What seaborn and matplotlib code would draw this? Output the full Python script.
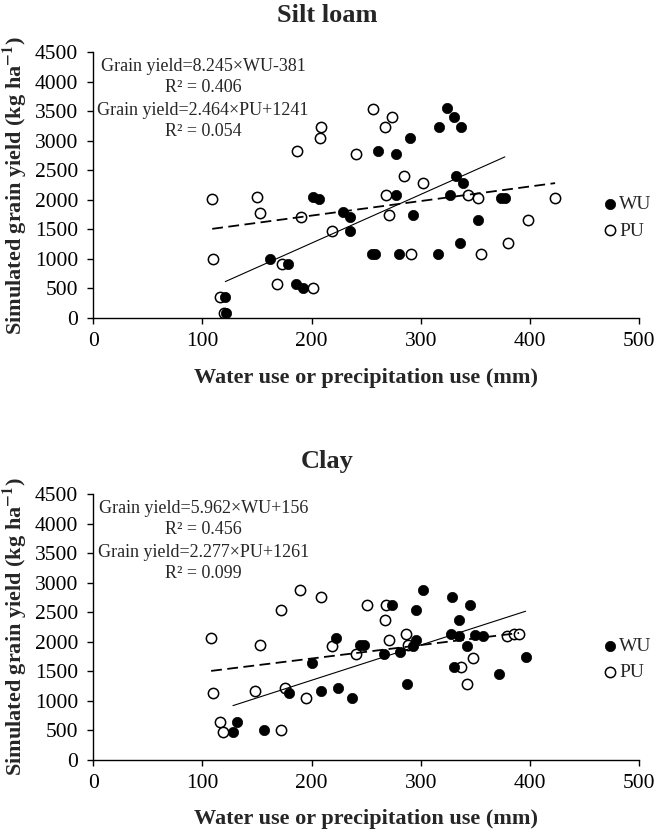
import numpy as np
import pandas as pd
import matplotlib.pyplot as plt
import seaborn as sns

# Silt loam - water use (filled) and precipitation use (open), mm vs kg/ha
silt_wu_x = [122, 121, 162, 178, 186, 192, 201, 207, 229, 235, 235, 255, 258, 261, 277, 277,
             280, 290, 293, 316, 317, 324, 327, 330, 332, 336, 337, 339, 352, 373, 377]
silt_wu_y = [80, 350, 1000, 910, 580, 510, 2050, 2010, 1790, 1710, 1470, 1080, 1080, 2820, 2780, 2090,
             1080, 3050, 1740, 1080, 3230, 3550, 2090, 3410, 2410, 1270, 3230, 2280, 1660, 2030, 2030]
silt_pu_x = [109, 110, 116, 120, 150, 153, 168, 173, 187, 190, 201, 208, 209, 219, 241, 256, 267,
             268, 271, 274, 285, 291, 302, 343, 352, 355, 380, 398, 423]
silt_pu_y = [2010, 1000, 350, 90, 2040, 1780, 580, 920, 2820, 1710, 510, 3050, 3230, 1470, 2780, 3540, 3230,
             2090, 1740, 3410, 2410, 1080, 2280, 2090, 2030, 1080, 1270, 1660, 2030]

# Clay
clay_wu_x = [128, 132, 156, 179, 200, 209, 222, 224, 237, 244, 248, 266, 274, 281, 287, 293, 296, 296,
             302, 328, 329, 330, 335, 335, 342, 345, 350, 357, 372, 396]
clay_wu_y = [480, 650, 500, 1140, 1640, 1170, 2060, 1220, 1050, 1940, 1940, 1800, 2625, 1830, 1290, 1920, 2030, 2540,
             2880, 2130, 2760, 1580, 2370, 2100, 1920, 2630, 2110, 2090, 1450, 1740]
clay_pu_x = [108, 110, 116, 119, 148, 153, 172, 172, 176, 189, 195, 209, 219, 241, 251, 267, 268, 271,
             286, 288, 337, 342, 348, 379, 385, 390]
clay_pu_y = [2060, 1140, 650, 480, 1165, 1940, 2530, 500, 1225, 2880, 1055, 2760, 1920, 1800, 2625, 2370, 2625, 2030,
             2130, 1940, 1580, 1290, 1720, 2100, 2130, 2130]

soils = ['Silt loam', 'Clay']
wu_fit = [(8.245, -381), (5.962, 156)]
pu_fit = [(2.464, 1241), (2.277, 1261)]
wu_r2 = ['0.406', '0.456']
pu_r2 = ['0.054', '0.099']
x_ticks = [0, 100, 200, 300, 400, 500]
y_ticks = list(range(0, 4501, 500))

data = [(silt_wu_x, silt_wu_y, silt_pu_x, silt_pu_y),
        (clay_wu_x, clay_wu_y, clay_pu_x, clay_pu_y)]

sns.set_style('ticks')
plt.rcParams['font.family'] = ['Liberation Serif', 'DejaVu Serif']
plt.rcParams['mathtext.fontset'] = 'stix'

fig = plt.figure(figsize=(6.61, 8.36), dpi=100)
axes_pos = [[0.141, 0.6196, 0.826, 0.318], [0.141, 0.091, 0.826, 0.318]]
title_y = [0.981, 0.448]

for i in range(2):
    ax = fig.add_axes(axes_pos[i])
    wx, wy, px, py = data[i]
    pu = pd.DataFrame({'x': px, 'y': py})
    wu = pd.DataFrame({'x': wx, 'y': wy})

    sns.scatterplot(data=pu, x='x', y='y', ax=ax, s=55, facecolor='white',
                    edgecolor='black', linewidth=1.1, label='PU', zorder=2)
    sns.scatterplot(data=wu, x='x', y='y', ax=ax, s=55, color='black',
                    edgecolor='black', linewidth=0.5, label='WU', zorder=3)

    # trend lines from the reported equations
    a, b = wu_fit[i]
    xs = np.array([min(wx), max(wx)])
    ax.plot(xs, a * xs + b, color='black', lw=0.8, zorder=4)
    a2, b2 = pu_fit[i]
    xs2 = np.array([min(px), max(px)])
    ax.plot(xs2, a2 * xs2 + b2, color='black', lw=1.3, dashes=(6, 3), zorder=4)

    ax.text(0.2015, 0.945, f'Grain yield={a:g}\u00d7WU{b:+g}', transform=ax.transAxes,
            ha='center', va='center', fontsize=13)
    ax.text(0.2015, 0.866, f'R\u00b2 = {wu_r2[i]}', transform=ax.transAxes,
            ha='center', va='center', fontsize=13)
    ax.text(0.2015, 0.780, f'Grain yield={a2:g}\u00d7PU{b2:+g}', transform=ax.transAxes,
            ha='center', va='center', fontsize=13)
    ax.text(0.2015, 0.700, f'R\u00b2 = {pu_r2[i]}', transform=ax.transAxes,
            ha='center', va='center', fontsize=13)

    ax.set_xlim(0, 500)
    ax.set_ylim(0, 4500)
    ax.set_xticks(x_ticks)
    ax.set_yticks(y_ticks)
    ax.tick_params(labelsize=15.5, length=4, width=1, color='black', labelcolor='black')
    ax.tick_params(axis='y', pad=7)
    ax.tick_params(axis='x', pad=6)
    sns.despine(ax=ax)
    for sp in ['left', 'bottom']:
        ax.spines[sp].set_color('black')
        ax.spines[sp].set_linewidth(1)

    ax.set_xlabel('Water use or precipitation use (mm)', fontsize=16, fontweight='bold', labelpad=12)
    ax.set_ylabel('Simulated grain yield (kg ha$^{\\mathbf{-1}}$)', fontsize=16, fontweight='bold')
    ax.yaxis.set_label_coords(-0.118, 0.5)

    h, l = ax.get_legend_handles_labels()
    ax.legend([h[1], h[0]], [l[1], l[0]], loc='center left', bbox_to_anchor=(0.935, 0.378),
              frameon=False, fontsize=14, handlelength=0.6, handletextpad=0.2,
              labelspacing=0.45, borderaxespad=0, borderpad=0)

    fig.text(0.495, title_y[i], soils[i], ha='center', va='center', fontsize=19, fontweight='bold')

fig.savefig('out.png', dpi=100)
